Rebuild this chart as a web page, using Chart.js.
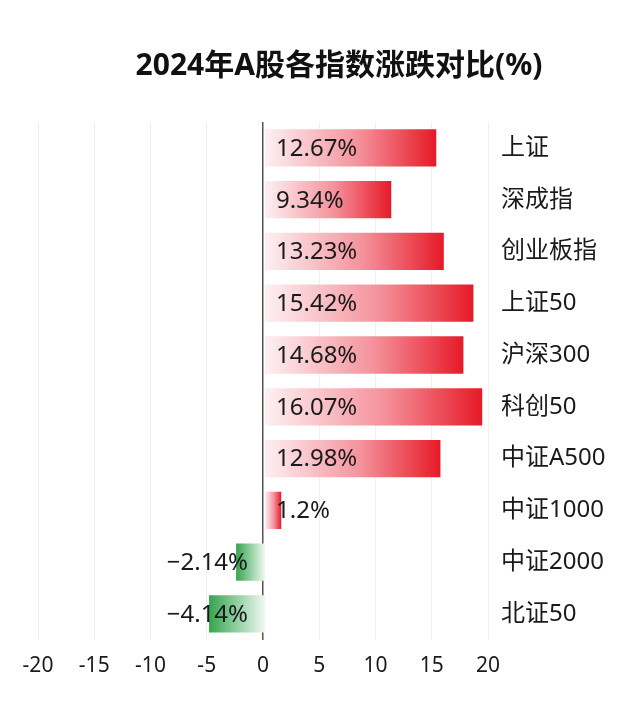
<!DOCTYPE html>
<html>
<head>
<meta charset="utf-8">
<title>2024年A股各指数涨跌对比</title>
<script src="https://cdn.jsdelivr.net/npm/chart.js@4"></script>
<style>
  html, body { margin: 0; padding: 0; background: #fff; }
  canvas { display: block; }
</style>
</head>
<body>
<canvas id="indexChart" width="640" height="710"></canvas>
<script>
const categories = ['上证', '深成指', '创业板指', '上证50', '沪深300', '科创50', '中证A500', '中证1000', '中证2000', '北证50'];
const changes = [12.67, 9.34, 13.23, 15.42, 14.68, 16.07, 12.98, 1.2, -2.14, -4.14];
const axisTicks = [-20, -15, -10, -5, 0, 5, 10, 15, 20];

const FONT = '"Noto Sans", "Noto Sans CJK SC", sans-serif';

// the bars use their own (hidden) scale, the drawn axis is only -20..20
function barGradient(context) {
    const chart = context.chart;
    if (!chart.chartArea || context.type !== 'data') return '#e81e2a';
    const sc = chart.scales.xb;
    const v = context.raw;
    const x0 = sc.getPixelForValue(0);
    const x1 = sc.getPixelForValue(v);
    const g = chart.ctx.createLinearGradient(x0, 0, x1, 0);
    if (v >= 0) {
        g.addColorStop(0, 'rgba(253, 240, 242, 1)');
        g.addColorStop(0.55, 'rgba(244, 145, 155, 1)');
        g.addColorStop(1, 'rgba(230, 26, 40, 1)');
    } else {
        g.addColorStop(0, 'rgba(240, 249, 242, 1)');
        g.addColorStop(1, 'rgba(52, 165, 80, 1)');
    }
    return g;
}

const valueLabels = {
    id: 'valueLabels',
    afterDatasetsDraw(chart) {
        const ctx = chart.ctx;
        const meta = chart.getDatasetMeta(0);
        ctx.save();
        ctx.font = '24px ' + FONT;
        ctx.fillStyle = '#1a1a1a';
        ctx.textBaseline = 'middle';
        meta.data.forEach((bar, i) => {
            const v = changes[i];
            const text = String(v).replace('-', '\u2212') + '%';
            if (v >= 0) {
                ctx.textAlign = 'left';
                ctx.fillText(text, bar.base + 11, bar.y + 1);
            } else {
                ctx.textAlign = 'right';
                ctx.fillText(text, bar.base - 17, bar.y + 1);
            }
        });
        ctx.restore();
    }
};

function renderIndexChart() {
    const ctx = document.getElementById('indexChart').getContext('2d');
    new Chart(ctx, {
        type: 'bar',
        data: {
            labels: categories,
            datasets: [{
                label: '涨跌幅(%)',
                data: changes,
                xAxisID: 'xb',
                backgroundColor: barGradient,
                borderWidth: 0,
                barPercentage: 0.9,
                categoryPercentage: 0.8
            }]
        },
        options: {
            indexAxis: 'y',
            responsive: false,
            devicePixelRatio: 1,
            animation: false,
            layout: {
                padding: { left: 38, right: 0, top: 0, bottom: 17 }
            },
            plugins: {
                legend: { display: false },
                tooltip: { enabled: false },
                title: {
                    display: true,
                    text: '2024年A股各指数涨跌对比(%)',
                    color: '#111',
                    font: { family: FONT, size: 30, weight: 'bold' },
                    padding: { top: 48, bottom: 38 }
                }
            },
            scales: {
                x: {
                    type: 'linear',
                    position: 'bottom',
                    min: axisTicks[0],
                    max: axisTicks[axisTicks.length - 1],
                    afterBuildTicks: (scale) => {
                        scale.ticks = axisTicks.map(v => ({ value: v }));
                    },
                    grid: {
                        drawTicks: false,
                        color: (c) => c.tick && c.tick.value === 0 ? '#555' : '#f0f0f0',
                        lineWidth: (c) => c.tick && c.tick.value === 0 ? 1.5 : 1
                    },
                    border: { display: false },
                    ticks: {
                        color: '#1a1a1a',
                        padding: 14,
                        font: { family: FONT, size: 21 }
                    }
                },
                xb: {
                    type: 'linear',
                    position: 'bottom',
                    display: false,
                    min: -16.8,
                    max: 16.5
                },
                y: {
                    position: 'right',
                    grid: { display: false, drawTicks: false },
                    border: { display: false },
                    afterFit: (scale) => { scale.width = 152; },
                    ticks: {
                        color: '#1a1a1a',
                        padding: 13,
                        font: { family: FONT, size: 24 }
                    }
                }
            }
        },
        plugins: [valueLabels]
    });
}

document.addEventListener('DOMContentLoaded', () => {
    renderIndexChart();
});
</script>
</body>
</html>
